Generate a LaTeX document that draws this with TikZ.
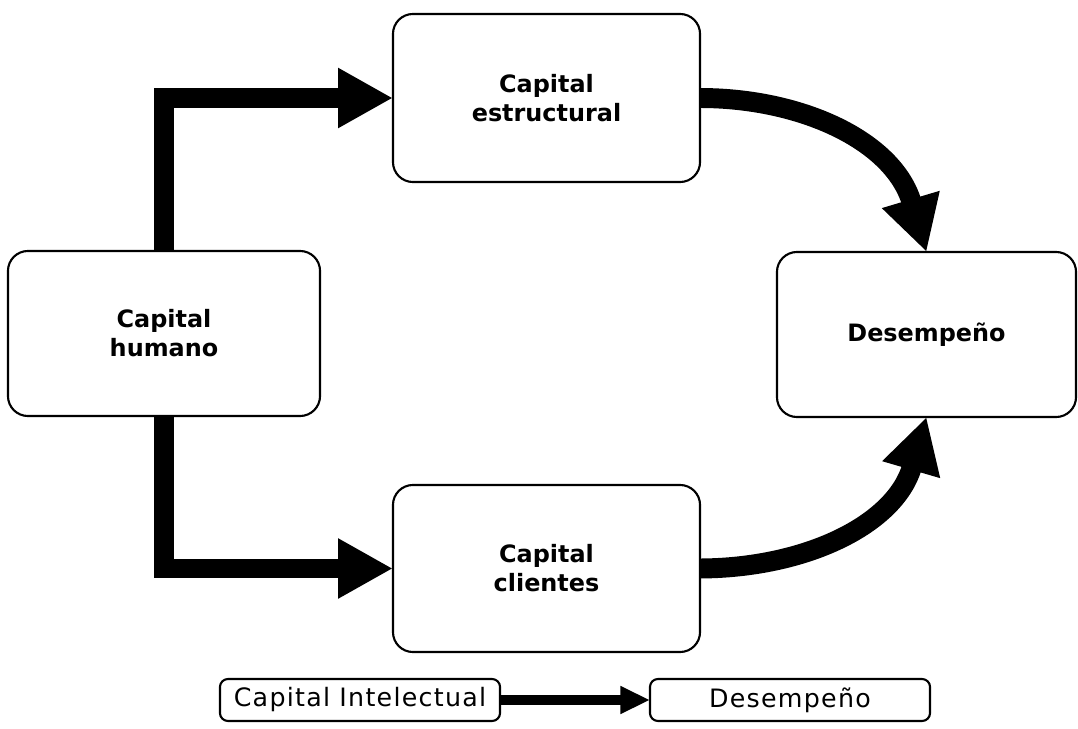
\documentclass[tikz,border=0pt]{standalone}
\usepackage{fontspec}
\setmainfont{DejaVu Sans}
\newfontfamily\legendfont[LetterSpace=5]{DejaVu Sans}
\usetikzlibrary{arrows.meta}
\begin{document}
\begin{tikzpicture}[x=0.025cm,y=-0.025cm,
  mainbox/.style={draw=black, line width=1.5pt, rounded corners=0.5cm,
    inner sep=0pt, outer sep=0pt, align=center,
    font=\bfseries\fontsize{17}{20.6}\selectfont},
  legbox/.style={draw=black, line width=1.5pt, rounded corners=0.2cm,
    inner sep=0pt, outer sep=0pt, minimum width=7cm, minimum height=1.05cm,
    font=\legendfont\fontsize{18}{20}\selectfont},
  bigarrow/.style={line width=14.2pt, line join=miter,
    -{Triangle[length=39pt, width=40pt]}},
  smallarrow/.style={line width=7pt,
    -{Triangle[length=21pt, width=18.5pt]}}]
\useasboundingbox (0,0) rectangle (1078,729);

% the four blocks of the model
\node[mainbox, minimum width=7.675cm, minimum height=4.2cm] (est) at (546.5,98) {Capital\\estructural};
\node[mainbox, minimum width=7.8cm, minimum height=4.125cm] (hum) at (164,333.5) {Capital\\humano};
\node[mainbox, minimum width=7.475cm, minimum height=4.125cm] (des) at (926.5,334.5) {Desempeño};
\node[mainbox, minimum width=7.675cm, minimum height=4.175cm] (cli) at (546.5,568.5) {Capital\\clientes};

% flows between the blocks
\draw[bigarrow] (hum.north) |- (est.west);
\draw[bigarrow] (hum.south) |- (cli.west);
\draw[bigarrow] (est.east) .. controls (800,98) and (893,140) .. (des.north);
\draw[bigarrow] (cli.east) .. controls (805,568) and (895,525) .. (des.south);

% summary line
\node[legbox] (ci) at (360,700) {Capital Intelectual};
\node[legbox] (dp) at (790,700) {Desempeño};
\draw[smallarrow] (ci.east) -- (dp.west);
\end{tikzpicture}
\end{document}
